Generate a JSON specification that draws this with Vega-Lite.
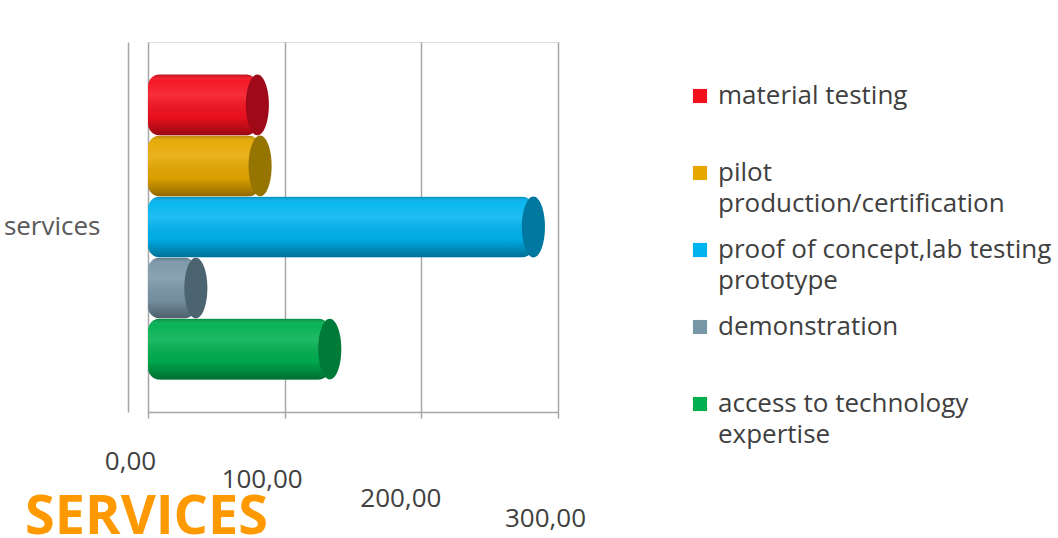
{
  "$schema": "https://vega.github.io/schema/vega-lite/v6.json",
  "width": 410,
  "height": 370,
  "autosize": "none",
  "padding": {"left": 148, "top": 42, "right": 500, "bottom": 126},
  "background": "white",
  "title": {
    "text": "SERVICES",
    "orient": "bottom",
    "anchor": "start",
    "frame": "group",
    "dx": -123,
    "offset": -40,
    "color": "#FF9900",
    "font": "Open Sans",
    "fontSize": 54,
    "fontWeight": "bold"
  },
  "data": {
    "values": [
      {"group": "services", "service": "material testing", "value": 80},
      {"group": "services", "service": "pilot production/certification", "value": 82},
      {"group": "services", "service": "proof of concept,lab testing prototype", "value": 282},
      {"group": "services", "service": "demonstration", "value": 35},
      {"group": "services", "service": "access to technology expertise", "value": 133}
    ]
  },
  "encoding": {
    "y": {
      "field": "group",
      "type": "nominal",
      "title": null,
      "scale": {"paddingInner": 0, "paddingOuter": 0},
      "axis": {
        "offset": 20,
        "labelFont": "Open Sans",
        "labelFontSize": 26,
        "labelColor": "#595959",
        "labelAngle": 0,
        "ticks": false,
        "labelPadding": 28,
        "domainColor": "#A6A6A6",
        "domainWidth": 1.5
      }
    },
    "yOffset": {
      "field": "service",
      "type": "nominal",
      "sort": ["material testing", "pilot production/certification", "proof of concept,lab testing prototype", "demonstration", "access to technology expertise"],
      "scale": {"paddingInner": 0, "paddingOuter": 0.53}
    },
    "x": {
      "field": "value",
      "type": "quantitative",
      "title": null,
      "scale": {"domain": [0, 300]},
      "axis": {
        "values": [0, 100, 200, 300],
        "labelExpr": "replace(format(datum.value, '.2f'), '.', ',')",
        "labelFont": "Open Sans",
        "labelFontSize": 26,
        "labelColor": "#404040",
        "labelBaseline": "top",
        "labelPadding": {
          "condition": [
            {"test": "datum.value == 100", "value": 48},
            {"test": "datum.value == 200", "value": 67},
            {"test": "datum.value == 300", "value": 87}
          ],
          "value": 30
        },
        "labelOffset": {
          "condition": [
            {"test": "datum.value == 100", "value": -23},
            {"test": "datum.value == 200", "value": -21},
            {"test": "datum.value == 300", "value": -13}
          ],
          "value": -18
        },
        "labelFlush": false,
        "labelOverlap": false,
        "gridColor": "#A6A6A6",
        "gridWidth": 1.5,
        "domainColor": "#A6A6A6",
        "domainWidth": 1.5,
        "tickColor": "#A6A6A6",
        "tickWidth": 1.5,
        "tickSize": 6
      }
    }
  },
  "layer": [
    {
      "mark": {"type": "bar", "cornerRadius": 12},
      "encoding": {
        "color": {
          "field": "service",
          "type": "nominal",
          "scale": {
            "domain": ["material testing", "pilot production/certification", "proof of concept,lab testing prototype", "demonstration", "access to technology expertise"],
            "range": ["#F5101F", "#E6A800", "#00B4F0", "#7A97A8", "#00B050"]
          },
          "legend": {
            "title": null,
            "orient": "none",
            "legendX": 539,
            "legendY": 41,
            "symbolType": "square",
            "symbolSize": 200,
            "symbolStrokeWidth": 0,
            "labelFont": "Open Sans",
            "labelFontSize": 26,
            "labelColor": "#404040",
            "labelLimit": 400,
            "labelOffset": 5,
            "rowPadding": 20,
            "encode": {"labels": {"update": {"lineHeight": {"value": 31}}}},
            "labelExpr": "datum.label == 'pilot production/certification' ? ['pilot', 'production/certification'] : datum.label == 'proof of concept,lab testing prototype' ? ['proof of concept,lab testing', 'prototype'] : datum.label == 'access to technology expertise' ? ['access to technology', 'expertise'] : [datum.label, ' ']"
          }
        }
      }
    },
    {
      "mark": {
        "type": "bar",
        "cornerRadius": 12,
        "fill": {
          "gradient": "linear",
          "x1": 0, "y1": 0, "x2": 0, "y2": 1,
          "stops": [
            {"offset": 0, "color": "rgba(0,0,0,0.25)"},
            {"offset": 0.1, "color": "rgba(255,255,255,0.04)"},
            {"offset": 0.35, "color": "rgba(255,255,255,0.12)"},
            {"offset": 0.7, "color": "rgba(0,0,0,0.05)"},
            {"offset": 1, "color": "rgba(0,0,0,0.38)"}
          ]
        }
      }
    },
    {
      "mark": {
        "type": "point",
        "filled": true,
        "opacity": 1,
        "shape": "M -0.38 0 A 0.38 1 0 1 0 0.38 0 A 0.38 1 0 1 0 -0.38 0 Z",
        "size": 3700
      },
      "encoding": {
        "fill": {
          "field": "service",
          "type": "nominal",
          "scale": {
            "domain": ["material testing", "pilot production/certification", "proof of concept,lab testing prototype", "demonstration", "access to technology expertise"],
            "range": ["#A00A18", "#957400", "#0078A0", "#4C6470", "#007A38"]
          },
          "legend": null
        }
      }
    }
  ]
}
